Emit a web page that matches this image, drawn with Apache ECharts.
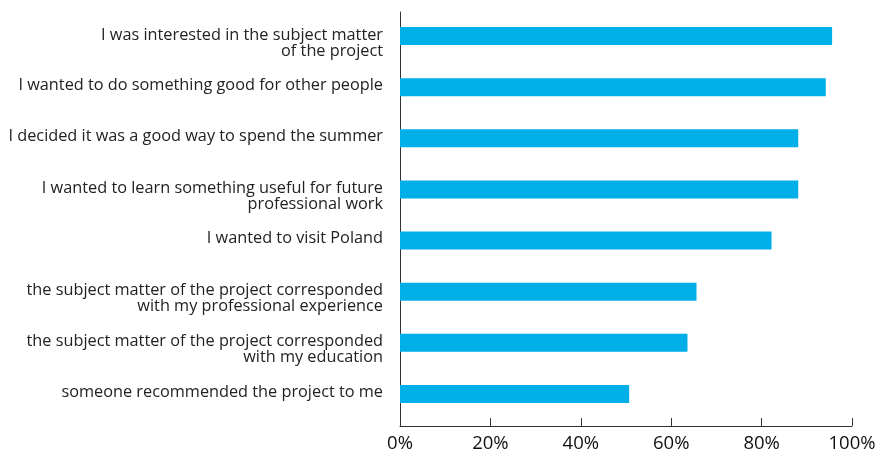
<!DOCTYPE html>
<html>
<head>
<meta charset="utf-8">
<script src="https://cdn.jsdelivr.net/npm/echarts@6/dist/echarts.min.js"></script>
<style>html,body{margin:0;padding:0;background:#fff;}#c{width:881px;height:453px;}</style>
</head>
<body>
<div id="c"></div>
<script>
const categories = [
  "I was interested in the subject matter\nof the project",
  "I wanted to do something good for other people",
  "I decided it was a good way to spend the summer",
  "I wanted to learn something useful for future\nprofessional work",
  "I wanted to visit Poland",
  "the subject matter of the project corresponded\nwith my professional experience",
  "the subject matter of the project corresponded\nwith my education",
  "someone recommended the project to me"
];
const values = [95.6, 94.2, 88.1, 88.1, 82.2, 65.6, 63.6, 50.7];
const xTicks = [0, 20, 40, 60, 80, 100];

const FONT = 'Open Sans';
const base = { color: '#222', fontSize: 16.3, fontFamily: FONT, lineHeight: 16, align: 'right' };
const chart = echarts.init(document.getElementById('c'));
function fmtLabel(v) {
  const lines = v.split('\n');
  if (lines.length > 1) {
    return lines.map((l, i) => (i === 0 ? '{f|' : '{n|') + l + '}').join('\n');
  }
  return '{s|' + v + '}';
}
chart.setOption({
  animation: false,
  grid: [
    { left: 400, width: 452, top: 10.5, height: 409 },
    { left: 400, width: 452, top: 12, height: 417 }
  ],
  xAxis: [
    { gridIndex: 0, type: 'value', min: 0, max: 100, show: false },
    {
      gridIndex: 1, type: 'value', min: xTicks[0], max: xTicks[xTicks.length - 1], interval: 20,
      axisLine: { show: true, lineStyle: { color: '#333', width: 1 } },
      axisTick: { show: true, inside: true, length: 8, lineStyle: { color: '#333' } },
      splitLine: { show: false },
      axisLabel: { formatter: v => v + '%', color: '#111', fontSize: 18.5, fontFamily: FONT, margin: 8 }
    }
  ],
  yAxis: [
    {
      gridIndex: 0, type: 'category', inverse: true, data: categories,
      axisLine: { show: false }, axisTick: { show: false },
      axisLabel: Object.assign({}, base, {
        margin: 17,
        formatter: fmtLabel,
        rich: {
          f: Object.assign({}, base, { lineHeight: 30, padding: [14, 0, 0, 0] }),
          n: Object.assign({}, base),
          s: Object.assign({}, base, { padding: [0, 0, 4, 0] })
        }
      })
    },
    {
      gridIndex: 1, type: 'value', min: 0, max: 1,
      axisLine: { show: true, lineStyle: { color: '#333', width: 1 } },
      axisTick: { show: false }, axisLabel: { show: false }, splitLine: { show: false }
    }
  ],
  series: [{
    type: 'bar', xAxisIndex: 0, yAxisIndex: 0, data: values, barWidth: 18,
    itemStyle: { color: '#00AEE8' }
  }]
});
</script>
</body>
</html>
